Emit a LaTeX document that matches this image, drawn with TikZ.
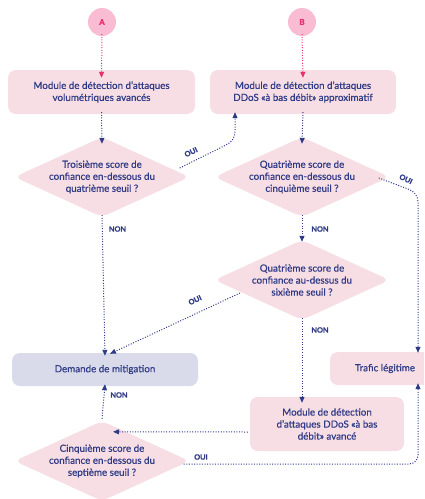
\documentclass[tikz,border=0pt]{standalone}
\usepackage{fontspec}
\setmainfont{Lato}
\newfontfamily\medfont{Lato}[FakeBold=0.6]
\newfontfamily\heavyfont{Lato Bold}[FakeBold=1.2]
\usetikzlibrary{shapes.geometric,arrows.meta}

\definecolor{navy}{HTML}{2F3B86}
\definecolor{boxpink}{HTML}{F7DDE4}
\definecolor{boxlav}{HTML}{D9DBEA}
\definecolor{dotpink}{HTML}{F9BCD3}
\definecolor{hotpink}{HTML}{E8306E}

\tikzset{
  modbox/.style={rectangle, rounded corners=8pt, fill=boxpink, text=navy, align=center,
    font=\medfont\fontsize{9.8}{12}\selectfont, inner sep=0pt},
  decbox/.style={diamond, aspect=2.2, rounded corners=7pt, fill=boxpink, text=navy, align=center,
    font=\medfont\fontsize{9.8}{12}\selectfont, minimum width=175pt, minimum height=80pt, inner sep=-5pt},
  startdot/.style={circle, fill=dotpink, text=hotpink, minimum size=28pt, inner sep=0pt,
    font=\heavyfont\fontsize{8}{8}\selectfont},
  flow/.style={draw=navy, line width=1pt, dash pattern=on 1pt off 1.6pt,
    -{Triangle[width=5pt,length=6pt]}},
  pinkflow/.style={flow, draw=hotpink},
  answer/.style={text=navy, inner sep=0pt, font=\heavyfont\fontsize{7.3}{8}\selectfont}
}

\begin{document}
\begin{tikzpicture}[x=1pt,y=1pt,yscale=-1,xscale=1]
\clip (0,0) rectangle (424,499);

%Shape: Circles
\node[startdot] (startA) at (102,22) {A};
\node[startdot] (startB) at (302,22) {B};

%Shape: Modules
\node[modbox, minimum width=187pt, minimum height=44pt] (volmod) at (101.5,92)
  {Module de détection d’attaques\\volumétriques avancés};
\node[modbox, minimum width=186pt, minimum height=44pt] (approxmod) at (303,92)
  {Module de détection d’attaques\\DDoS «à bas débit» approximatif};
\node[modbox, minimum width=154pt, minimum height=54pt] (advmod) at (327,424)
  {Module de détection\\d’attaques DDoS «à bas\\débit» avancé};

%Shape: Decisions
\node[decbox] (thirdq) at (102,177)
  {Troisième score de\\confiance en-dessous du\\quatrième seuil ?};
\node[decbox] (fourthq) at (302,177)
  {Quatrième score de\\confiance en-dessous du\\cinquième seuil ?};
\node[decbox] (sixthq) at (302,280)
  {Quatrième score de\\confiance au-dessus du\\sixième seuil ?};
\node[decbox] (seventhq) at (102,461)
  {Cinquième score de\\confiance en-dessous du\\septième seuil ?};

%Shape: Outcomes
\node[modbox, fill=boxlav, minimum width=186pt, minimum height=33pt] (mitig) at (105,369.5)
  {Demande de mitigation};
\node[modbox, minimum width=110pt, minimum height=33pt] (legit) at (385,368.5)
  {Trafic légitime};

\coordinate (rail) at (418,0);

%Straight Lines
\draw[pinkflow] ([yshift=-2pt]startA.south) -- ([yshift=8pt]volmod.north);
\draw[pinkflow] ([yshift=-2pt]startB.south) -- ([yshift=8pt]approxmod.north);
\draw[flow] ([yshift=-2pt]volmod.south) -- ([yshift=7pt]thirdq.north);
\draw[flow] ([yshift=-2pt]approxmod.south) -- ([yshift=7pt]fourthq.north);
\draw[flow] ([yshift=-2pt]thirdq.south) -- ([yshift=3pt]mitig.north);
\draw[flow] ([yshift=-2pt]fourthq.south) -- ([yshift=2pt]sixthq.north);
\draw[flow] ([yshift=-2pt]sixthq.south) -- ([yshift=6pt]sixthq.south |- advmod.north);
\draw[flow] ([yshift=-2pt]seventhq.north) -- ([yshift=-2pt]mitig.south);
\draw[flow] ([shift={(-2,8)}]advmod.west) -- ([shift={(11,11)}]seventhq.north);
\draw[flow] ([shift={(-62,13)}]sixthq.center) -- ([shift={(5,1)}]mitig.north);

%Curved Lines
\draw[flow] ([shift={(-10,-9)}]thirdq.east) -- (226,145) to[out=-25,in=90] (235,131) -- ([yshift=-2pt]235,0 |- approxmod.south);
\draw[flow] ([shift={(-11,1)}]fourthq.east) -- (408,189) to[out=20,in=-90] (418,202) -- ([yshift=1pt]rail |- legit.north);
\draw[flow] ([shift={(-6,3)}]seventhq.east) -- (409,464) to[out=0,in=90] (418,455) -- ([yshift=-2pt]rail |- legit.south);

%Labels
\node[answer, rotate=25] (yes3) at (191,152) {OUI};
\node[answer, rotate=-25] (yes4) at (406,179) {OUI};
\node[answer, rotate=25] (yes6) at (195,300) {OUI};
\node[answer] (yes7) at (201,457) {OUI};
\node[answer] (no3) at (117.5,229) {NON};
\node[answer] (no4) at (320,229) {NON};
\node[answer] (no6) at (320,330) {NON};
\node[answer] (no7) at (119,395) {NON};

\end{tikzpicture}
\end{document}
